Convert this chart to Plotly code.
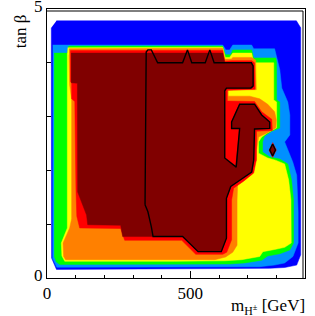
import plotly.graph_objects as go

# ---- contour bands (super-level sets), m_H [GeV] vs tan(beta) ----
lvl1_x = [33, 870, 885, 885, 871, 829, 777, 33, 16, 15]
lvl1_y = [4.78, 4.78, 4.65, 0.43, 0.24, 0.195, 0.18, 0.16, 0.37, 4.65]

lvl2_x = [20, 613, 624, 637, 648, 714, 721, 794, 812, 819, 840, 847, 847, 829, 857, 871, 876, 876, 858, 829, 794, 742, 34, 24, 19]
lvl2_y = [4.33, 4.33, 4.24, 4.24, 4.33, 4.33, 4.26, 4.26, 3.87, 3.53, 3.27, 3.03, 2.66, 2.53, 2.16, 1.91, 1.23, 0.65, 0.40, 0.28, 0.24, 0.21, 0.20, 0.30, 0.37]

lvl3_x = [25, 72, 76, 613, 622, 641, 648, 714, 721, 798, 801, 801, 812, 812, 784, 759, 752, 752, 777, 812, 840, 853, 860, 860, 847, 812, 770, 749, 690, 637, 44, 32, 25]
lvl3_y = [4.18, 4.18, 4.31, 4.31, 4.15, 4.15, 4.24, 4.24, 4.09, 4.09, 4.00, 3.31, 3.27, 2.79, 2.73, 2.64, 2.53, 2.34, 2.25, 2.21, 2.12, 1.82, 1.45, 0.65, 0.52, 0.45, 0.41, 0.33, 0.28, 0.26, 0.25, 0.30, 0.41]

lvl4_x = [72, 613, 622, 637, 648, 714, 721, 791, 791, 801, 801, 770, 749, 738, 738, 770, 797, 829, 843, 851, 852, 829, 794, 753, 742, 679, 620, 445, 62, 52, 50, 71, 71]
lvl4_y = [4.28, 4.29, 4.10, 4.10, 4.18, 4.18, 4.00, 4.00, 3.31, 3.27, 2.79, 2.70, 2.62, 2.53, 2.32, 2.23, 2.19, 2.12, 1.82, 1.45, 0.65, 0.57, 0.53, 0.49, 0.40, 0.34, 0.32, 0.31, 0.31, 0.41, 0.65, 0.93, 4.18]

lvl5_x = [77, 613, 620, 644, 648, 714, 728, 730, 632, 632, 707, 742, 770, 794, 800, 798, 770, 738, 731, 731, 707, 686, 665, 663, 663, 648, 623, 585, 65, 58, 56, 79, 86, 86, 79, 77]
lvl5_y = [4.26, 4.27, 4.07, 4.07, 4.10, 4.10, 4.05, 3.50, 3.49, 3.38, 3.38, 3.33, 3.23, 3.09, 2.94, 2.79, 2.70, 2.62, 2.38, 2.19, 1.97, 1.86, 1.75, 1.45, 0.61, 0.48, 0.39, 0.34, 0.34, 0.40, 0.65, 0.93, 1.10, 3.31, 3.59, 4.15]

lvl6_x = [81, 613, 620, 644, 714, 724, 726, 629, 629, 724, 749, 784, 786, 731, 730, 721, 686, 651, 644, 644, 627, 613, 519, 470, 271, 257, 114, 104, 101, 97, 86, 86, 81]
lvl6_y = [4.23, 4.23, 4.03, 4.04, 4.04, 4.00, 3.51, 3.49, 3.29, 3.28, 3.09, 2.95, 2.74, 2.73, 2.19, 1.95, 1.80, 1.67, 1.45, 0.71, 0.48, 0.44, 0.44, 0.70, 0.70, 0.92, 0.93, 1.15, 1.64, 3.28, 3.33, 3.62, 3.66]

lvl7_x = [84, 613, 621, 714, 719, 719, 714, 626, 620, 620, 658, 667, 672, 644, 644, 672, 724, 749, 777, 777, 724, 721, 714, 679, 641, 626, 626, 608, 527, 473, 264, 257, 142, 138, 124, 107, 106, 84]
lvl7_y = [4.18, 4.18, 3.99, 3.99, 3.94, 3.55, 3.53, 3.53, 3.48, 2.23, 2.06, 2.53, 2.78, 2.78, 2.90, 3.23, 3.23, 3.03, 2.90, 2.78, 2.77, 2.19, 1.97, 1.84, 1.70, 1.48, 0.74, 0.49, 0.49, 0.77, 0.77, 0.98, 0.99, 1.17, 1.36, 1.60, 3.62, 3.63]

# small isolated peak
peak6_x = [787, 800, 787, 774]
peak6_y = [2.52, 2.38, 2.24, 2.38]
peak7_x = [787, 797, 787, 777]
peak7_y = [2.49, 2.38, 2.27, 2.38]

# exclusion contour (black line)
excl_x = [342, 346, 352, 364, 386, 473, 490, 505, 552, 568, 583, 713, 719, 719, 711, 626, 620, 620, 660, 667, 672, 644, 644, 672, 724, 749, 777, 777, 724, 721, 714, 679, 641, 626, 626, 608, 527, 473, 370, 364, 352, 342,
          None, 787, 797, 787, 777, 787]
excl_y = [1.36, 4.20, 4.24, 4.24, 4.00, 4.00, 4.24, 4.00, 4.00, 4.24, 4.00, 4.00, 3.94, 3.57, 3.53, 3.53, 3.48, 2.23, 2.06, 2.53, 2.78, 2.78, 2.90, 3.23, 3.23, 3.03, 2.90, 2.78, 2.77, 2.19, 1.97, 1.84, 1.70, 1.48, 0.74, 0.49, 0.49, 0.77, 0.77, 0.95, 1.23, 1.36,
          None, 2.49, 2.38, 2.27, 2.38, 2.49]

colors = ["#0000FF", "#0090FF", "#00FF00", "#FFFF00", "#FF8000", "#FF0000", "#800000"]

bands = [
    (lvl1_x, lvl1_y),
    (lvl2_x, lvl2_y),
    (lvl3_x, lvl3_y),
    (lvl4_x, lvl4_y),
    (lvl5_x, lvl5_y),
    (lvl6_x + [None] + peak6_x, lvl6_y + [None] + peak6_y),
    (lvl7_x + [None] + peak7_x, lvl7_y + [None] + peak7_y),
]

fig = go.Figure()
for (bx, by), c in zip(bands, colors):
    fig.add_trace(go.Scatter(x=bx, y=by, mode="lines", fill="toself", fillcolor=c,
                             line=dict(width=0.5, color=c), hoverinfo="skip"))

fig.add_trace(go.Scatter(x=excl_x, y=excl_y, mode="lines",
                         line=dict(width=1.4, color="black"), hoverinfo="skip"))

font = dict(family="Liberation Serif", size=17, color="black")

fig.update_layout(
    width=315, height=316,
    margin=dict(l=47, r=10, t=9, b=38, autoexpand=False),
    plot_bgcolor="white", paper_bgcolor="white",
    showlegend=False,
    xaxis=dict(range=[0, 900], showline=True, mirror=True, linecolor="black", linewidth=1,
               automargin=False, ticklabeloverflow="allow",
               showgrid=False, zeroline=False, ticks="inside", tickvals=[0, 500],
               ticklen=7, tickcolor="black", tickfont=font,
               minor=dict(tickvals=[100, 200, 300, 400, 600, 700, 800], ticks="inside",
                          ticklen=3.5, tickcolor="black", showgrid=False)),
    yaxis=dict(range=[0, 5], showline=True, mirror=True, linecolor="black", linewidth=1,
               automargin=False, ticklabeloverflow="allow", ticklabelshift=-3,
               showgrid=False, zeroline=False, ticks="inside", tickvals=[0, 1, 2, 3, 4, 5],
               ticktext=["0", "", "", "", "", "5"], ticklen=4, tickcolor="black", tickfont=font),
    annotations=[
        dict(text="tan β", xref="paper", yref="paper", x=-0.1, y=0.989, textangle=-90,
             xanchor="center", yanchor="top", showarrow=False, font=font),
        dict(text="m<sub>H<sup>±</sup></sub> [GeV]", xref="paper", yref="paper", x=1.008, y=-0.06,
             xanchor="right", yanchor="top", showarrow=False, font=font),
    ],
    shapes=[
        dict(type="line", xref="paper", yref="paper", x0=0, x1=1 - 2 / 258, y0=1 - 2 / 269, y1=1 - 2 / 269,
             line=dict(color="black", width=1)),
        dict(type="line", xref="paper", yref="paper", x0=1 - 2 / 258, x1=1 - 2 / 258, y0=0, y1=1 - 2 / 269,
             line=dict(color="black", width=1)),
    ],
)

fig.write_html("out.html", config={"displayModeBar": False},
               post_script="document.body.style.margin='0';")
